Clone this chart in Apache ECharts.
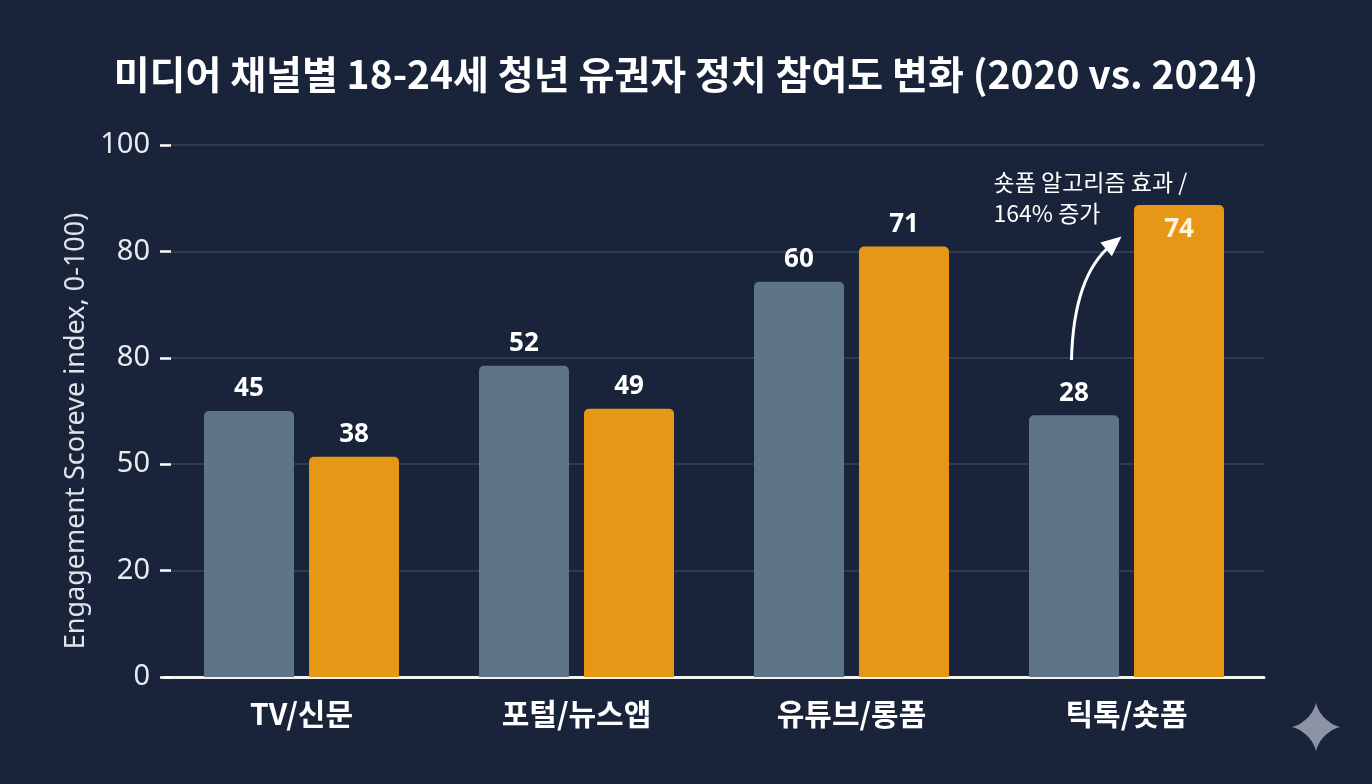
<!DOCTYPE html>
<html><head><meta charset="utf-8">
<script src="https://cdn.jsdelivr.net/npm/echarts@6/dist/echarts.min.js"></script>
<style>html,body{margin:0;padding:0;background:#19233a;}#c{width:1372px;height:784px;}</style>
</head><body><div id="c"></div>
<script>
const categories = ['TV/신문', '포털/뉴스앱', '유튜브/롱폼', '틱톡/숏폼'];
// bar heights as drawn against the gridlines
const barHeight2020 = [50, 58.5, 74.3, 49.2];
const barHeight2024 = [41.4, 50.4, 80.9, 88.7];
// numbers printed on the bars
const label2020 = [45, 52, 60, 28];
const label2024 = [38, 49, 71, 74];
// y-axis tick labels as printed (ticks at 0,20,40,60,80,100)
const yTickLabels = ['0', '20', '50', '80', '80', '100'];
const titleText = '미디어 채널별 18-24세 청년 유권자 정치 참여도 변화 (2020 vs. 2024)';
const yAxisName = 'Engagement Scoreve index, 0-100)';
const annotationText = '숏폼 알고리즘 효과 /\n164% 증가';

const FONT = '"Noto Sans", "Noto Sans CJK KR", sans-serif';
const chart = echarts.init(document.getElementById('c'));

const option = {
  backgroundColor: '#19233a',
  textStyle: { fontFamily: FONT },
  title: {
    text: titleText, left: 'center', top: 50,
    textStyle: { color: '#ffffff', fontSize: 39, fontWeight: 'bold', fontFamily: '"Noto Sans CJK KR"' }
  },
  grid: { left: 164, right: 108, top: 145, bottom: 107 },
  xAxis: {
    type: 'category', data: categories,
    axisLine: { show: true, lineStyle: { color: '#f2f2f2', width: 3 } },
    axisTick: { show: false },
    axisLabel: { color: '#ffffff', fontSize: 30, fontWeight: 'bold', margin: 22, fontFamily: '"Noto Sans CJK KR"' }
  },
  yAxis: {
    type: 'value', min: 0, max: 100, interval: 20, offset: -7,
    name: yAxisName, nameLocation: 'middle', nameGap: 80, nameRotate: 90,
    nameTextStyle: { color: '#dfe3ea', fontSize: 27, fontFamily: FONT, padding: [0, 40, 0, 0] },
    axisLine: { show: false },
    axisTick: { show: true, length: 11, lineStyle: { color: '#ffffff', width: 2.5 } },
    axisLabel: {
      color: '#e8ebf0', fontSize: 29, margin: 21, fontFamily: FONT,
      formatter: v => yTickLabels[Math.round(v / 20)]
    },
    splitLine: { lineStyle: { color: '#3a4559', width: 1.5 } }
  },
  series: [
    {
      name: '2020', type: 'bar', data: barHeight2020,
      barWidth: 90, barGap: '16.7%',
      itemStyle: { color: '#5d7587', borderRadius: [5, 5, 0, 0] },
      label: {
        show: true, position: 'top', distance: 9,
        color: '#ffffff', fontSize: 26, fontWeight: 'bold', fontFamily: FONT,
        formatter: p => String(label2020[p.dataIndex])
      }
    },
    {
      name: '2024', type: 'bar', data: barHeight2024.map((v, i) => {
        if (i === 3) {
          return { value: v, label: { position: 'insideTop', distance: 11, color: '#fff4d6' } };
        }
        return v;
      }),
      barWidth: 90,
      itemStyle: { color: '#e69716', borderRadius: [5, 5, 0, 0] },
      label: {
        show: true, position: 'top', distance: 9,
        color: '#ffffff', fontSize: 26, fontWeight: 'bold', fontFamily: FONT,
        formatter: p => String(label2024[p.dataIndex])
      }
    }
  ]
};
chart.setOption(option);

// annotation arrow built from the axis scale
const cx = chart.convertToPixel({ xAxisIndex: 0 }, categories[3]);
const yStart = chart.convertToPixel({ yAxisIndex: 0 }, 59.6);
const yEnd = chart.convertToPixel({ yAxisIndex: 0 }, 82.8);
const sx = cx - 55, ex = cx - 5;
const cpx = sx + 2, cpy = yEnd + 40;
const dx = ex - cpx, dy = yEnd - cpy, len = Math.hypot(dx, dy);
const ux = dx / len, uy = dy / len, px = -uy, py = ux, ah = 20, aw = 9;
const tipX = ex, tipY = yEnd;
// four-point sparkle outline (astroid)
const star = [];
for (let k = 0; k < 64; k++) {
  const t = k / 64 * Math.PI * 2;
  star.push([1316 + 25 * Math.pow(Math.cos(t), 3), 727 + 25 * Math.pow(Math.sin(t), 3)]);
}
chart.setOption({
  graphic: [
    {
      type: 'bezierCurve',
      shape: { x1: sx, y1: yStart, x2: ex - ux * 14, y2: yEnd - uy * 14, cpx1: cpx, cpy1: cpy },
      style: { stroke: '#ffffff', lineWidth: 3, fill: null }
    },
    {
      type: 'polygon',
      shape: { points: [[tipX, tipY], [tipX - ux * ah + px * aw, tipY - uy * ah + py * aw], [tipX - ux * ah - px * aw, tipY - uy * ah - py * aw]] },
      style: { fill: '#ffffff' }
    },
    {
      type: 'text', x: cx - 133, y: 167,
      style: { text: annotationText, fill: '#ffffff', fontSize: 23, lineHeight: 31, fontFamily: '"Noto Sans CJK KR"' }
    },
    {
      type: 'polygon',
      shape: { points: star },
      style: { fill: '#8b93a5' }
    }
  ]
});
</script>
</body></html>
